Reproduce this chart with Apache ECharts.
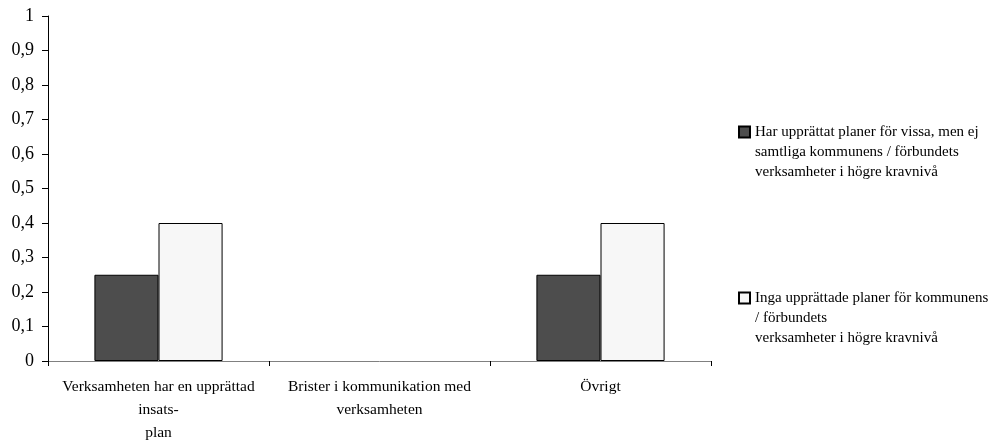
<!DOCTYPE html>
<html>
<head>
<meta charset="utf-8">
<script src="https://cdn.jsdelivr.net/npm/echarts@6/dist/echarts.min.js"></script>
<style>
  html, body { margin: 0; padding: 0; background: #fff; }
  #chart { width: 992px; height: 441px; }
</style>
</head>
<body>
<div id="chart"></div>
<script>
// kategorier och värden
var categories = [
  'Verksamheten har en upprättad\ninsats-\nplan',
  'Brister i kommunikation med\nverksamheten',
  'Övrigt'
]
var seriesNames = [
  'Har upprättat planer för vissa, men ej\nsamtliga kommunens / förbundets\nverksamheter i högre kravnivå',
  'Inga upprättade planer för kommunens\n/ förbundets\nverksamheter i högre kravnivå'
]
var partialPlans = [0.25, 0, 0.25]
var noPlans = [0.4, 0, 0.4]

var font = '"Liberation Serif", "DejaVu Serif", serif'
var myChart = echarts.init(document.getElementById('chart'))

// nollstaplar ritas utan kantlinje
function toBarData (arr) {
  return arr.map(function (v) {
    return v === 0 ? { value: v, itemStyle: { borderWidth: 0 } } : v
  })
}

// ikonen: liten ruta överst, osynlig förlängning nedåt så att rutan hamnar vid första raden
var topSquare = 'path://M0,0L11,0L11,11L0,11Z M0,51L0.001,51'

function legendCfg (name, top) {
  return {
    data: [name],
    left: 733,
    top: top,
    icon: topSquare,
    itemWidth: 11,
    itemHeight: 51,
    itemGap: 0,
    textStyle: {
      fontFamily: font,
      fontSize: 15,
      color: '#000',
      lineHeight: 20,
    },
  }
}

var option = {
  animation: false,
  textStyle: { fontFamily: font },
  grid: {
    left: 48,
    top: 16,
    right: 281,
    bottom: 80,
    outerBoundsMode: 'none',
  },
  legend: [
    legendCfg(seriesNames[0], 117),
    legendCfg(seriesNames[1], 283),
  ],
  xAxis: {
    type: 'category',
    data: categories,
    axisLine: { lineStyle: { color: '#808080', width: 1 } },
    axisTick: { show: true, length: 5, lineStyle: { color: '#000' } },
    axisLabel: {
      color: '#000',
      fontFamily: font,
      fontSize: 15.5,
      lineHeight: 23,
      margin: 14,
      interval: 0,
    },
  },
  yAxis: {
    type: 'value',
    min: 0,
    max: 1,
    interval: 0.1,
    splitLine: { show: false },
    axisLine: { show: true, lineStyle: { color: '#000', width: 1 } },
    axisTick: { show: true, length: 6, lineStyle: { color: '#000' } },
    axisLabel: {
      color: '#000',
      fontFamily: font,
      fontSize: 18,
      margin: 14,
      formatter: function (v) {
        return String(Math.round(v * 10) / 10).replace('.', ',')
      },
    },
  },
  series: [
    {
      name: seriesNames[0],
      type: 'bar',
      data: toBarData(partialPlans),
      barGap: '0%',
      barCategoryGap: '42%',
      itemStyle: { color: '#4d4d4d', borderColor: '#000', borderWidth: 1 },
    },
    {
      name: seriesNames[1],
      type: 'bar',
      data: toBarData(noPlans),
      itemStyle: { color: '#f7f7f7', borderColor: '#000', borderWidth: 1 },
    },
  ],
}
myChart.setOption(option)
</script>
</body>
</html>
